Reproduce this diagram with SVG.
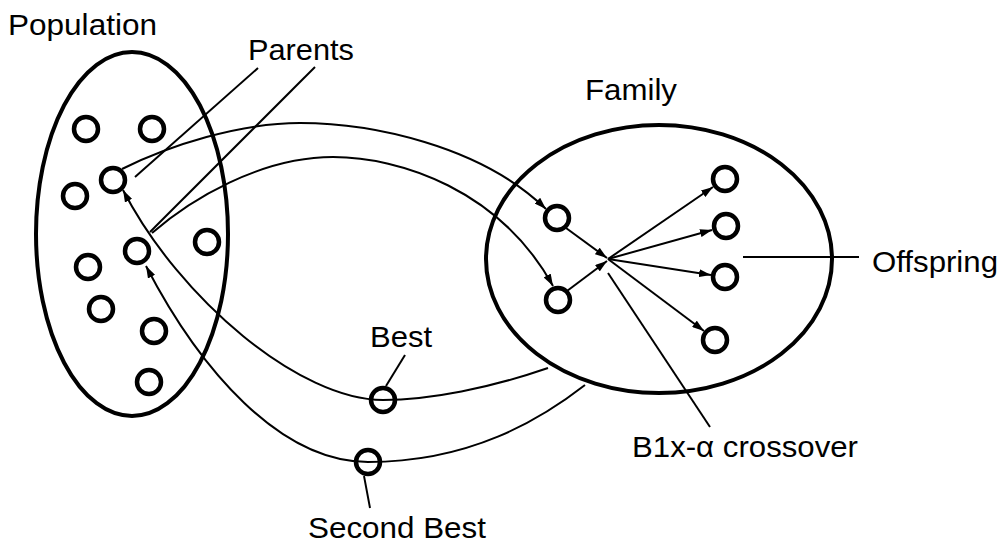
<svg xmlns="http://www.w3.org/2000/svg" width="1003" height="542" viewBox="0 0 1003 542">
  <style>
    .group { fill: none; stroke: #000; stroke-width: 4; }
    .ind { fill: none; stroke: #000; stroke-width: 4.5; }
    .link { fill: none; stroke: #000; stroke-width: 2; }
    .lbl { font-family: "Liberation Sans", Arial, sans-serif; font-size: 30px; fill: #000; }
  </style>
  <defs>
    <marker id="arrow" viewBox="0 0 12 8" refX="12" refY="4" markerWidth="12" markerHeight="8" markerUnits="userSpaceOnUse" orient="auto">
      <path d="M0,0 L12,4 L0,8 z" fill="#000"/>
    </marker>
  </defs>
  <rect width="1003" height="542" fill="#fff"/>

  <!-- population set -->
  <g id="population">
    <ellipse class="group" cx="132" cy="234" rx="96" ry="182"/>
    <text class="lbl" x="8" y="35" textLength="149" lengthAdjust="spacingAndGlyphs">Population</text>
    <circle class="ind" cx="86" cy="129" r="12"/>
    <circle class="ind" cx="152" cy="129" r="12"/>
    <circle class="ind" cx="75" cy="196" r="12"/>
    <circle class="ind" cx="207" cy="242" r="12"/>
    <circle class="ind" cx="88" cy="267" r="12"/>
    <circle class="ind" cx="101" cy="309" r="12"/>
    <circle class="ind" cx="154" cy="331" r="12"/>
    <circle class="ind" cx="149" cy="382" r="12"/>
  </g>

  <g id="parent1"><circle class="ind" cx="113" cy="180" r="12"/></g>
  <g id="parent2"><circle class="ind" cx="137" cy="251" r="12"/></g>
  <g id="parents-label">
    <text class="lbl" x="248" y="60" textLength="106" lengthAdjust="spacingAndGlyphs">Parents</text>
  </g>

  <!-- family set -->
  <g id="family">
    <ellipse class="group" cx="659" cy="259" rx="173" ry="134"/>
    <text class="lbl" x="585" y="100" textLength="92" lengthAdjust="spacingAndGlyphs">Family</text>
  </g>
  <g id="family-parent1"><circle class="ind" cx="557" cy="218" r="12"/></g>
  <g id="family-parent2"><circle class="ind" cx="558" cy="300" r="12"/></g>
  <g id="offspring1"><circle class="ind" cx="725" cy="179" r="12"/></g>
  <g id="offspring2"><circle class="ind" cx="726" cy="226" r="12"/></g>
  <g id="offspring3"><circle class="ind" cx="725" cy="277" r="12"/></g>
  <g id="offspring4"><circle class="ind" cx="715" cy="340" r="12"/></g>
  <g id="offspring-label">
    <text class="lbl" x="872" y="272" textLength="126" lengthAdjust="spacingAndGlyphs">Offspring</text>
  </g>
  <g id="crossover-label">
    <text class="lbl" x="632" y="457" textLength="226" lengthAdjust="spacingAndGlyphs">B1x-α crossover</text>
  </g>

  <!-- selected survivors -->
  <g id="best">
    <circle class="ind" cx="383" cy="400" r="12"/>
    <text class="lbl" x="370" y="347" textLength="62" lengthAdjust="spacingAndGlyphs">Best</text>
  </g>
  <g id="second-best">
    <circle class="ind" cx="368" cy="462" r="12"/>
    <text class="lbl" x="308" y="538" textLength="178" lengthAdjust="spacingAndGlyphs">Second Best</text>
  </g>

  <g id="connectors">
    <!-- leader lines -->
    <line class="link" x1="258" y1="68" x2="135" y2="177"/>
    <line class="link" x1="315" y1="67" x2="150" y2="232"/>
    <line class="link" x1="405" y1="355" x2="386" y2="386"/>
    <line class="link" x1="364" y1="476" x2="370" y2="508"/>
    <line class="link" x1="743" y1="257" x2="859" y2="257"/>
    <line class="link" x1="608" y1="273" x2="710" y2="427"/>

    <!-- parents copied into the family -->
    <path class="link" marker-end="url(#arrow)" d="M122,169 C170,145 240,123 300,123 C370,123 480,145 546,209"/>
    <path class="link" marker-end="url(#arrow)" d="M152,233 C190,200 260,157 333,157 C400,157 500,190 553,286"/>

    <!-- crossover -->
    <line class="link" marker-end="url(#arrow)" x1="566" y1="228" x2="607" y2="258"/>
    <line class="link" marker-end="url(#arrow)" x1="567" y1="291" x2="607" y2="261"/>
    <line class="link" marker-end="url(#arrow)" x1="608" y1="259" x2="713" y2="187"/>
    <line class="link" marker-end="url(#arrow)" x1="608" y1="259" x2="712" y2="230"/>
    <line class="link" marker-end="url(#arrow)" x1="608" y1="259" x2="711" y2="275"/>
    <line class="link" marker-end="url(#arrow)" x1="608" y1="259" x2="704" y2="331"/>

    <!-- replacement back into the population -->
    <path class="link" marker-end="url(#arrow)" d="M548,368 C490,388 430,400 383,400 C300,400 180,300 123,190"/>
    <path class="link" marker-end="url(#arrow)" d="M585,385 C540,420 470,462 368,462 C280,462 200,370 146,266"/>
  </g>
</svg>
